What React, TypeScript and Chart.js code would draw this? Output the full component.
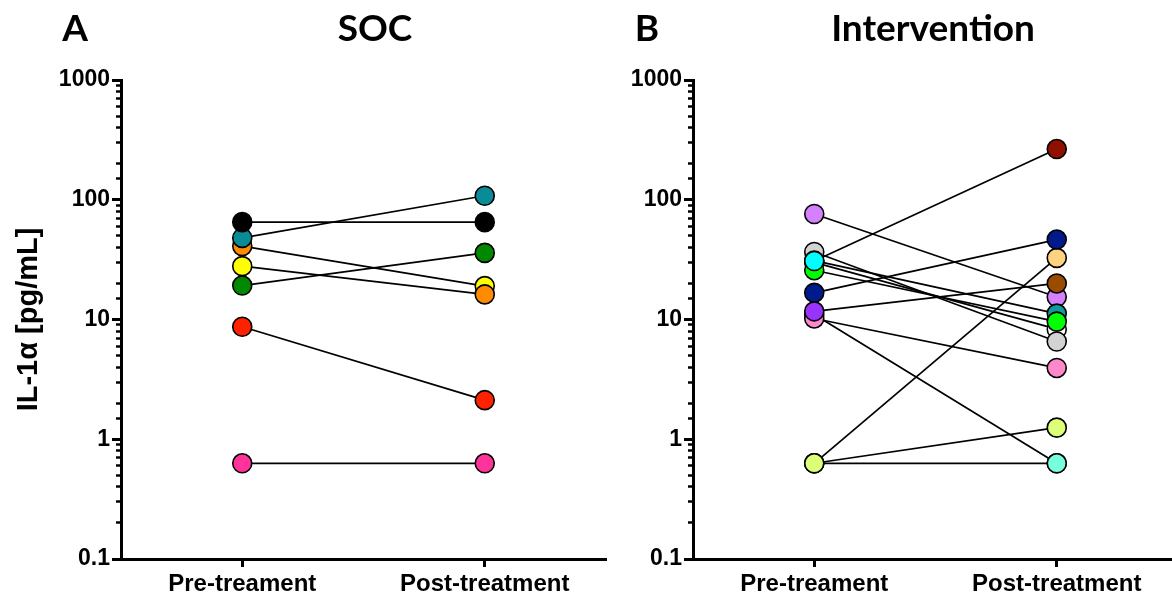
import React, { useEffect, useRef } from "react";
import { Chart, registerables } from "chart.js";

Chart.register(...registerables);

// ---------- data ----------
const xLabels = ["Pre-treament", "Post-treatment"];
const yTickValues = [0.1, 1, 10, 100, 1000];
const yTitle = "IL-1\u03b1 [pg/mL]";

// Panel A: SOC (first entry drawn on top)
const socPre = [65, 48, 27.9, 41, 19.2, 8.7, 0.63];
const socPost = [65, 108, 16.2, 19, 36, 2.12, 0.63];
const socPreColors = ["#000000", "#0a8c96", "#ffff00", "#ff8c00", "#008800", "#ff2200", "#ff3399"];
const socPostColors = ["#000000", "#0a8c96", "#ff8c00", "#ffff00", "#008800", "#ff2200", "#ff3399"];

// Panel B: Intervention (first entry drawn on top)
const intPre = [30.8, 25.8, 31, 36.6, 30, 11.7, 76, 16.7, 10.2, 11, 0.63, 0.63, 0.63];
const intPost = [265, 9.6, 11.2, 6.55, 8.3, 20, 15.4, 46.5, 3.94, 0.63, 1.25, 32.7, 0.63];
const intPreColors = ["#00ffff", "#00ff00", "#119c9c", "#d3d3d3", "#ffffff", "#9933ff", "#d580ff", "#001a8c", "#ff88cc", "#77ffdd", "#ddff77", "#ddff77", "#ddff77"];
const intPostColors = ["#901000", "#00ff00", "#119c9c", "#d3d3d3", "#ffffff", "#994c00", "#d580ff", "#001a8c", "#ff88cc", "#77ffdd", "#ddff77", "#ffd27f", "#77ffdd"];

// ---------- chart ----------
const panelTextPlugin = {
  id: "panelText",
  afterDraw(chart: any, _args: any, opts: any) {
    const ctx = chart.ctx;
    ctx.save();
    ctx.fillStyle = "#000";
    ctx.textBaseline = "alphabetic";
    ctx.textAlign = "center";
    ctx.font = "bold 37px Lato";
    ctx.fillText(opts.letter, opts.letterX, 41);
    ctx.fillText(opts.title, opts.titleX, 41);
    ctx.restore();
  },
};

type PanelProps = {
  pre: number[];
  post: number[];
  preColors: string[];
  postColors: string[];
  letter: string;
  title: string;
  letterX: number;
  titleX: number;
  yWidth: number;
  showYTitle: boolean;
  padRight: number;
  width: number;
  left: number;
};

function Panel(p: PanelProps) {
  const ref = useRef<HTMLCanvasElement>(null);
  useEffect(() => {
    if (!ref.current) return;
    const datasets: any[] = [];
    p.pre.forEach((v, i) => {
      datasets.push({
        type: "line",
        data: [{ x: 0, y: v }, { x: 1, y: p.post[i] }],
        borderColor: "#000",
        borderWidth: 1.7,
        pointRadius: 0,
        fill: false,
        order: 2,
      });
    });
    p.pre.forEach((v, i) => {
      datasets.push({
        type: "line",
        data: [{ x: 0, y: v }, { x: 1, y: p.post[i] }],
        showLine: false,
        pointRadius: 9.5,
        pointBackgroundColor: [p.preColors[i], p.postColors[i]],
        pointBorderColor: "#000",
        pointBorderWidth: 1.6,
        order: 1,
      });
    });
    const tickFont = { family: "'Liberation Sans', Arial", weight: "bold" as const, size: 23 };
    const chart = new Chart(ref.current, {
      type: "line",
      data: { datasets },
      plugins: [panelTextPlugin],
      options: {
        animation: false,
        responsive: false,
        events: [],
        layout: { padding: { top: 80, left: 0, right: p.padRight, bottom: 0 } },
        plugins: {
          legend: { display: false },
          tooltip: { enabled: false },
          // @ts-ignore
          panelText: { letter: p.letter, title: p.title, letterX: p.letterX, titleX: p.titleX },
        },
        scales: {
          x: {
            type: "linear",
            min: -0.5,
            max: 1.5,
            afterBuildTicks: (s: any) => {
              s.ticks = [{ value: 0 }, { value: 1 }];
            },
            afterFit: (s: any) => {
              s.height = 40;
            },
            ticks: {
              callback: (v: any) => xLabels[v],
              font: { family: "'Liberation Sans', Arial", weight: "bold", size: 24 },
              color: "#000",
              padding: 3,
              maxRotation: 0,
              autoSkip: false,
            },
            grid: { drawOnChartArea: false, drawTicks: true, tickLength: 8, tickWidth: 3, tickColor: "#000" },
            border: { display: true, color: "#000", width: 3 },
          },
          y: {
            type: "logarithmic",
            min: 0.1,
            max: 1000,
            position: "left",
            weight: 1,
            afterBuildTicks: (s: any) => {
              s.ticks = yTickValues.map((v) => ({ value: v, major: true }));
            },
            afterFit: (s: any) => {
              s.width = p.yWidth;
            },
            ticks: {
              callback: (v: any) => String(v),
              font: tickFont,
              color: "#000",
              padding: 2,
              autoSkip: false,
            },
            grid: { drawOnChartArea: false, drawTicks: true, tickLength: 9, tickWidth: 3, tickColor: "#000" },
            border: { display: true, color: "#000", width: 3 },
            title: {
              display: p.showYTitle,
              text: yTitle,
              color: "#000",
              font: { family: "'Liberation Sans', Arial", weight: "bold", size: 29 },
              padding: { top: 12, bottom: 0 },
            },
          },
          yMinor: {
            type: "logarithmic",
            min: 0.1,
            max: 1000,
            position: "left",
            weight: 0,
            afterFit: (s: any) => {
              s.width = 0;
            },
            ticks: { display: false },
            grid: { drawOnChartArea: false, drawTicks: true, tickLength: 5, tickWidth: 2.5, tickColor: "#000" },
            border: { display: false },
          },
        },
      } as any,
    });
    return () => chart.destroy();
  }, []);
  return (
    <canvas
      ref={ref}
      width={p.width}
      height={599}
      style={{ position: "absolute", left: p.left, top: 0 }}
    />
  );
}

export default function App() {
  return (
    <div
      style={{
        position: "fixed",
        left: 0,
        top: 0,
        width: 1172,
        height: 599,
        overflow: "hidden",
        background: "#fff",
      }}
    >
      <Panel
        pre={socPre}
        post={socPost}
        preColors={socPreColors}
        postColors={socPostColors}
        letter="A"
        title="SOC"
        letterX={75}
        titleX={375}
        yWidth={121}
        showYTitle={true}
        padRight={14}
        width={620}
        left={0}
      />
      <Panel
        pre={intPre}
        post={intPost}
        preColors={intPreColors}
        postColors={intPostColors}
        letter="B"
        title="Intervention"
        letterX={47}
        titleX={333}
        yWidth={93}
        showYTitle={false}
        padRight={22}
        width={600}
        left={600}
      />
    </div>
  );
}
